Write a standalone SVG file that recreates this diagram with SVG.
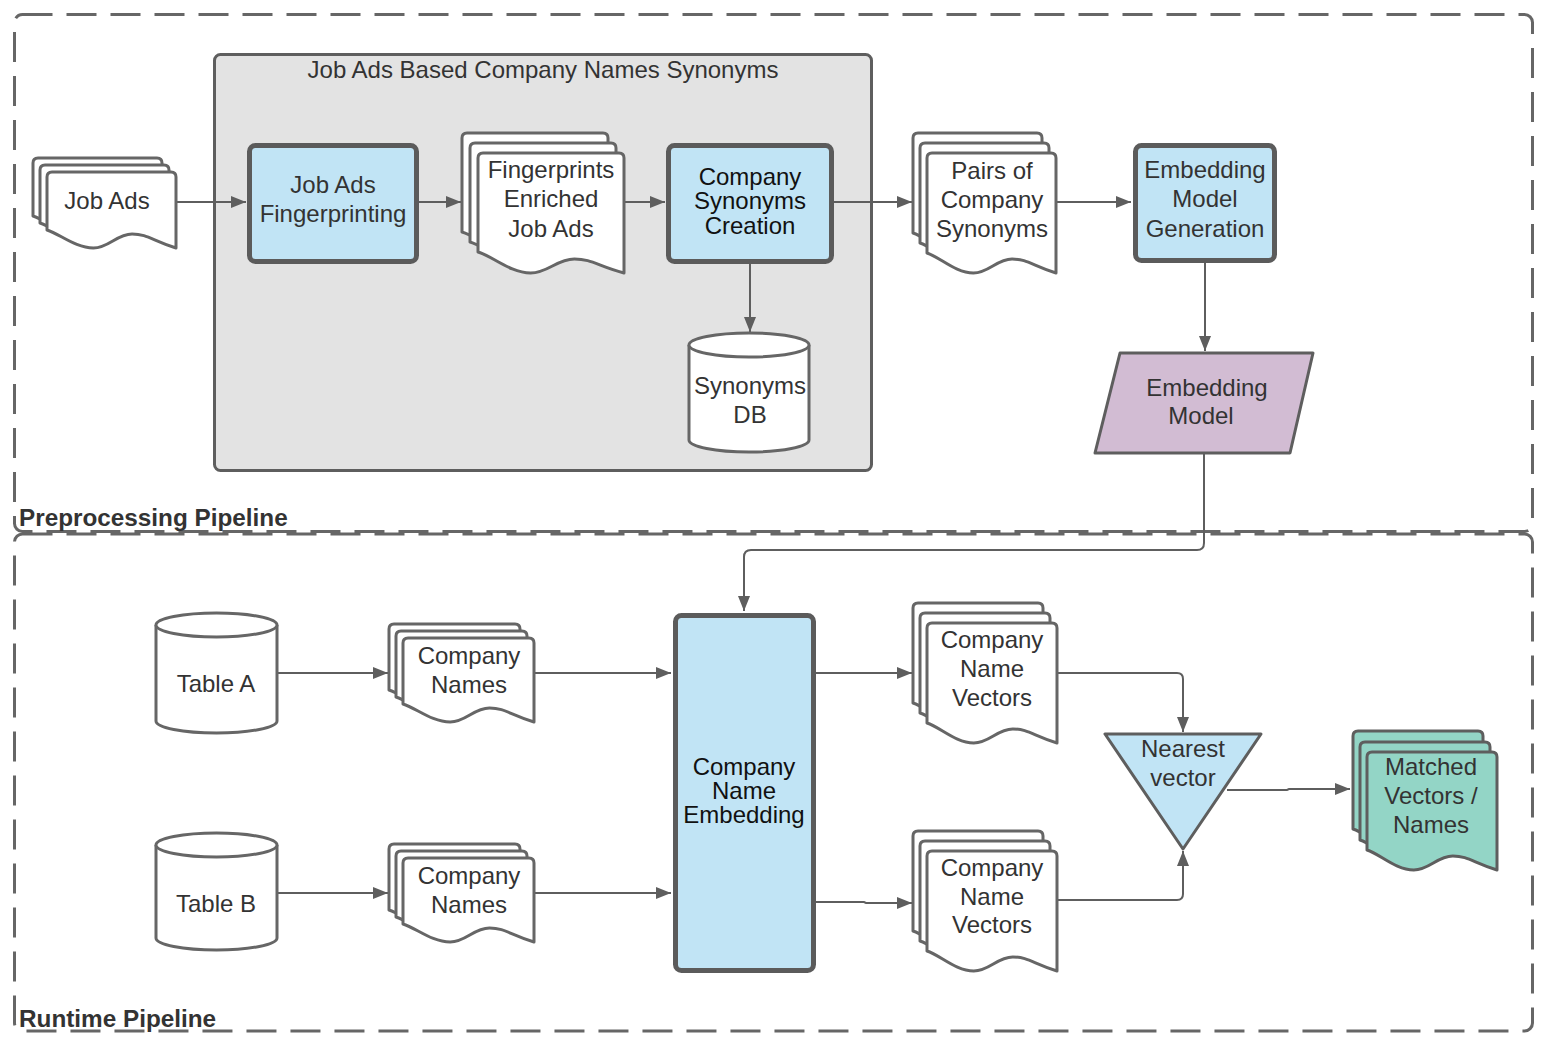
<svg xmlns="http://www.w3.org/2000/svg" xmlns:xlink="http://www.w3.org/1999/xlink" width="1546" height="1046" viewBox="0 0 1546 1046">
<style>
.cont{fill:none;stroke:#666;stroke-width:3;stroke-dasharray:30 14}
.grp{fill:#e3e3e3;stroke:#5e5e5e;stroke-width:3}
.doc{fill:#fff;stroke:#666;stroke-width:3;stroke-linejoin:round}
.docg{fill:#93d5c6;stroke:#5e5e5e;stroke-width:3;stroke-linejoin:round}
.proc{fill:#c1e4f5;stroke:#5b5b5b;stroke-width:5}
.db{fill:#fff;stroke:#666;stroke-width:3}
.conn{fill:none;stroke:#5e5e5e;stroke-width:2}
.t{font-family:"Liberation Sans",Arial,sans-serif;font-size:24px;fill:#333;text-anchor:middle}
.tk{fill:#111}
.lbl{font-family:"Liberation Sans",Arial,sans-serif;font-size:24.3px;font-weight:bold;fill:#333}
</style>
<defs>
<marker id="ah" viewBox="0 0 15 12" refX="15" refY="6" markerWidth="15" markerHeight="12" orient="auto" markerUnits="userSpaceOnUse"><path d="M0,0 L15,6 L0,12 Z" fill="#5e5e5e"/></marker>
<path id="dJobAds" d="M47,177 Q47,172 52,172 H171 Q176,172 176,177 V248 C152.8,241 147.6,234 132.1,234 C116.7,234 108.9,248 93.4,248 C75.4,248 59.9,234 47,230 Z"/>
<path id="dEnr" d="M478,158 Q478,153 483,153 H619 Q624,153 624,158 V273 C597.7,266 591.9,259 574.4,259 C556.8,259 548.1,273 530.6,273 C510.1,273 492.6,256 478,252 Z"/>
<path id="dPairs" d="M927,158 Q927,153 932,153 H1051 Q1056,153 1056,158 V273 C1032.8,266 1027.6,259 1012.1,259 C996.7,259 988.9,273 973.4,273 C955.4,273 939.9,257 927,253 Z"/>
<path id="dCN" d="M403,643 Q403,638 408,638 H529 Q534,638 534,643 V722 C510.4,715 505.2,708 489.5,708 C473.7,708 465.9,722 450.2,722 C431.8,722 416.1,708 403,704 Z"/>
<path id="dVec" d="M927,628 Q927,623 932,623 H1052 Q1057,623 1057,628 V743 C1033.6,736 1028.4,729 1012.8,729 C997.2,729 989.4,743 973.8,743 C955.6,743 940,727 927,723 Z"/>
<path id="dMat" d="M1367,757 Q1367,752 1372,752 H1492 Q1497,752 1497,757 V870 C1473.6,863 1468.4,856 1452.8,856 C1437.2,856 1429.4,870 1413.8,870 C1395.6,870 1380,854 1367,850 Z"/>
</defs>
<rect width="1546" height="1046" fill="#fff"/>

<g id="preprocessing-pipeline">
<rect class="cont" x="14.5" y="14.5" width="1518" height="517" rx="8"/>
<text class="lbl" x="19" y="526">Preprocessing Pipeline</text>
</g>
<g id="runtime-pipeline">
<rect class="cont" x="14.5" y="534" width="1518" height="497" rx="8"/>
<text class="lbl" x="19" y="1027">Runtime Pipeline</text>
</g>
<g id="synonyms-group">
<rect class="grp" x="214.5" y="54.5" width="657" height="416" rx="6"/>
<text class="t" x="543" y="78">Job Ads Based Company Names Synonyms</text>
</g>

<g id="connectors">
<path class="conn" marker-end="url(#ah)" d="M176,202 H246"/>
<path class="conn" marker-end="url(#ah)" d="M419,202 H461"/>
<path class="conn" marker-end="url(#ah)" d="M624,202 H665"/>
<path class="conn" marker-end="url(#ah)" d="M834,202 H912"/>
<path class="conn" marker-end="url(#ah)" d="M1056,202 H1131"/>
<path class="conn" marker-end="url(#ah)" d="M750,264 V332"/>
<path class="conn" marker-end="url(#ah)" d="M1205,263 V351"/>
<path class="conn" marker-end="url(#ah)" d="M1204,453 V543 Q1204,550 1197,550 H751 Q744,550 744,557 V611"/>
<path class="conn" marker-end="url(#ah)" d="M277,673 H388"/>
<path class="conn" marker-end="url(#ah)" d="M534,673 H671"/>
<path class="conn" marker-end="url(#ah)" d="M277,893 H388"/>
<path class="conn" marker-end="url(#ah)" d="M534,893 H671"/>
<path class="conn" marker-end="url(#ah)" d="M816,673 H912"/>
<path class="conn" marker-end="url(#ah)" d="M816,902 H864 L866,903 H912"/>
<path class="conn" marker-end="url(#ah)" d="M1057,673 H1177 Q1183,673 1183,679 V732"/>
<path class="conn" marker-end="url(#ah)" d="M1057,900 H1177 Q1183,900 1183,894 V851"/>
<path class="conn" marker-end="url(#ah)" d="M1227,790 H1287 L1289,789 H1350"/>
</g>

<g id="job-ads">
<use href="#dJobAds" class="doc" x="-14" y="-14"/>
<use href="#dJobAds" class="doc" x="-7" y="-7"/>
<use href="#dJobAds" class="doc"/>
<text class="t" x="107" y="209">Job Ads</text>
</g>
<g id="job-ads-fingerprinting">
<rect class="proc" x="249.5" y="145.5" width="167" height="116" rx="6"/>
<text class="t" x="333" y="193">Job Ads</text>
<text class="t" x="333" y="222">Fingerprinting</text>
</g>
<g id="fingerprints-enriched">
<use href="#dEnr" class="doc" x="-16" y="-20"/>
<use href="#dEnr" class="doc" x="-8" y="-10"/>
<use href="#dEnr" class="doc"/>
<text class="t" x="551" y="178">Fingerprints</text>
<text class="t" x="551" y="207">Enriched</text>
<text class="t" x="551" y="237">Job Ads</text>
</g>
<g id="company-synonyms-creation">
<rect class="proc" x="668.5" y="145.5" width="163" height="116" rx="6"/>
<text class="t tk" x="750" y="185">Company</text>
<text class="t tk" x="750" y="209">Synonyms</text>
<text class="t tk" x="750" y="234">Creation</text>
</g>
<g id="synonyms-db">
<path class="db" d="M689,345 A60,12 0 0 1 809,345 V440 A60,12 0 0 1 689,440 Z"/>
<path class="db" fill="none" d="M689,345 A60,12 0 0 0 809,345"/>
<text class="t" x="750" y="394">Synonyms</text>
<text class="t" x="750" y="423">DB</text>
</g>
<g id="pairs-of-company-synonyms">
<use href="#dPairs" class="doc" x="-14" y="-20"/>
<use href="#dPairs" class="doc" x="-7" y="-10"/>
<use href="#dPairs" class="doc"/>
<text class="t" x="992" y="179">Pairs of</text>
<text class="t" x="992" y="208">Company</text>
<text class="t" x="992" y="237">Synonyms</text>
</g>
<g id="embedding-model-generation">
<rect class="proc" x="1135.5" y="145.5" width="139" height="115" rx="6"/>
<text class="t" x="1205" y="178">Embedding</text>
<text class="t" x="1205" y="207">Model</text>
<text class="t" x="1205" y="237">Generation</text>
</g>
<g id="embedding-model">
<polygon points="1120,353 1313,353 1290,453 1095,453" fill="#d2bcd3" stroke="#5e5e5e" stroke-width="3" stroke-linejoin="round"/>
<text class="t" x="1207" y="396">Embedding</text>
<text class="t" x="1201" y="424">Model</text>
</g>

<g id="table-a">
<path class="db" d="M156,625 A60.5,12 0 0 1 277,625 V721 A60.5,12 0 0 1 156,721 Z"/>
<path class="db" fill="none" d="M156,625 A60.5,12 0 0 0 277,625"/>
<text class="t" x="216" y="692">Table A</text>
</g>
<g id="table-b">
<path class="db" d="M156,845 A60.5,12 0 0 1 277,845 V938 A60.5,12 0 0 1 156,938 Z"/>
<path class="db" fill="none" d="M156,845 A60.5,12 0 0 0 277,845"/>
<text class="t" x="216" y="912">Table B</text>
</g>
<g id="company-names-a">
<use href="#dCN" class="doc" x="-14" y="-14"/>
<use href="#dCN" class="doc" x="-7" y="-7"/>
<use href="#dCN" class="doc"/>
<text class="t" x="469" y="664">Company</text>
<text class="t" x="469" y="693">Names</text>
</g>
<g id="company-names-b">
<use href="#dCN" class="doc" x="-14" y="206"/>
<use href="#dCN" class="doc" x="-7" y="213"/>
<use href="#dCN" class="doc" y="220"/>
<text class="t" x="469" y="884">Company</text>
<text class="t" x="469" y="913">Names</text>
</g>
<g id="company-name-embedding">
<rect class="proc" x="675.5" y="615.5" width="138" height="355" rx="6"/>
<text class="t tk" x="744" y="775">Company</text>
<text class="t tk" x="744" y="799">Name</text>
<text class="t tk" x="744" y="823">Embedding</text>
</g>
<g id="company-name-vectors-a">
<use href="#dVec" class="doc" x="-14" y="-20"/>
<use href="#dVec" class="doc" x="-7" y="-10"/>
<use href="#dVec" class="doc"/>
<text class="t" x="992" y="648">Company</text>
<text class="t" x="992" y="677">Name</text>
<text class="t" x="992" y="706">Vectors</text>
</g>
<g id="company-name-vectors-b">
<use href="#dVec" class="doc" x="-14" y="208"/>
<use href="#dVec" class="doc" x="-7" y="218"/>
<use href="#dVec" class="doc" y="228"/>
<text class="t" x="992" y="876">Company</text>
<text class="t" x="992" y="905">Name</text>
<text class="t" x="992" y="933">Vectors</text>
</g>
<g id="nearest-vector">
<polygon points="1105,734 1261,734 1183,849" fill="#c1e4f5" stroke="#5e5e5e" stroke-width="3" stroke-linejoin="round"/>
<text class="t" x="1183" y="757">Nearest</text>
<text class="t" x="1183" y="786">vector</text>
</g>
<g id="matched-vectors-names">
<use href="#dMat" class="docg" x="-14" y="-21"/>
<use href="#dMat" class="docg" x="-7" y="-10"/>
<use href="#dMat" class="docg"/>
<text class="t" x="1431" y="775">Matched</text>
<text class="t" x="1431" y="804">Vectors /</text>
<text class="t" x="1431" y="833">Names</text>
</g>
</svg>
